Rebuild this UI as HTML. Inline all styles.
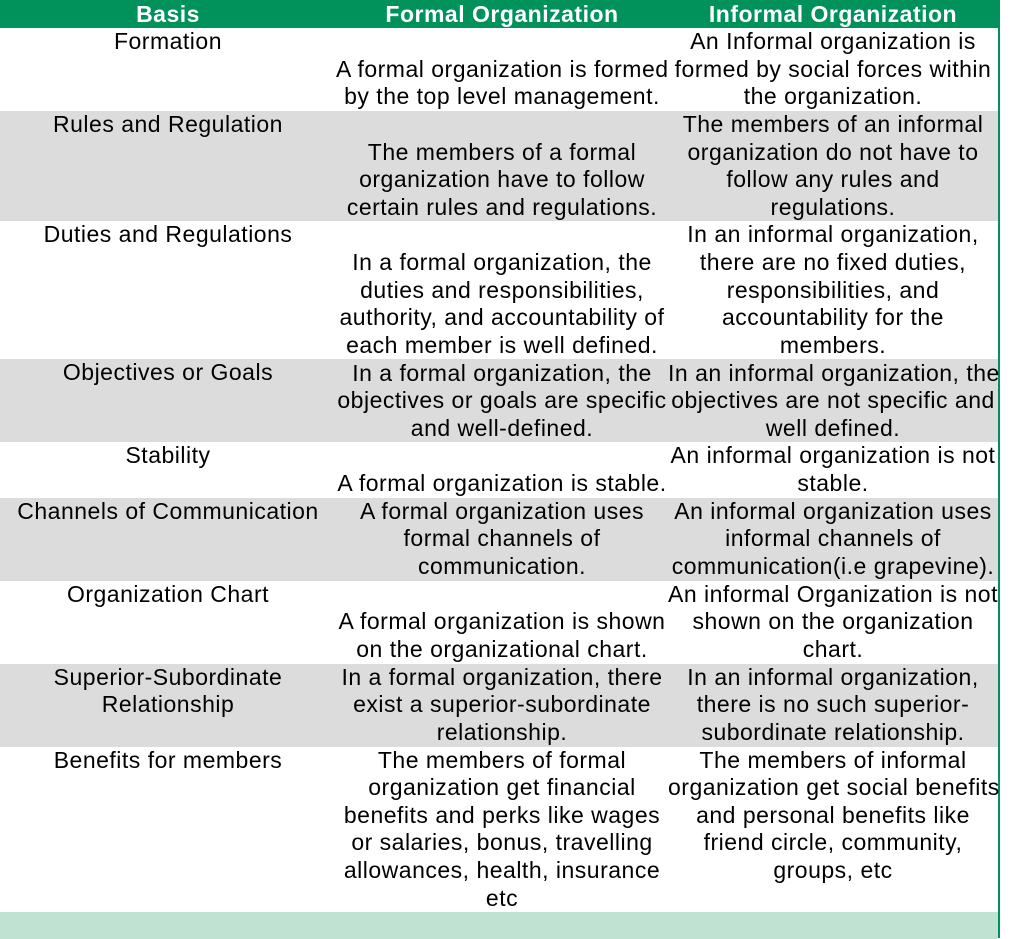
<!DOCTYPE html>
<html><head><style>
body{margin:0;width:1026px;height:938px;background:#fff;overflow:hidden;font-family:"Liberation Sans",Arial,Helvetica,sans-serif;}
.wrap{position:absolute;left:0;top:0;width:998px;border-right:2px solid #00925a;height:938px;}
table{border-collapse:collapse;table-layout:fixed;width:998px;}
td{padding:0;font-size:23px;letter-spacing:0.5px;line-height:27.6px;text-align:center;color:#000;overflow:visible;white-space:nowrap;}
td.b{vertical-align:top;}
td.v{vertical-align:bottom;}
tr.h td{background:#00925a;color:#fff;font-weight:bold;height:28px;line-height:28px;font-size:23px;letter-spacing:0.5px;}
tr.g td{background:#dcdcdc;}
tr.f td{background:#bfe2d2;height:27px;}
</style></head><body><div class="wrap">
<table>
<col style="width:336px"><col style="width:332px"><col style="width:330px">
<tr class="h"><td>Basis</td><td>Formal Organization</td><td>Informal Organization</td></tr>
<tr style="height:83px"><td class="b">Formation</td><td class="v">A formal organization is formed<br>by the top level management.</td><td class="v">An Informal organization is<br>formed by social forces within<br>the organization.</td></tr>
<tr class="g" style="height:110px"><td class="b">Rules and Regulation</td><td class="v">The members of a formal<br>organization have to follow<br>certain rules and regulations.</td><td class="v">The members of an informal<br>organization do not have to<br>follow any rules and<br>regulations.</td></tr>
<tr style="height:138px"><td class="b">Duties and Regulations</td><td class="v">In a formal organization, the<br>duties and responsibilities,<br>authority, and accountability of<br>each member is well defined.</td><td class="v">In an informal organization,<br>there are no fixed duties,<br>responsibilities, and<br>accountability for the<br>members.</td></tr>
<tr class="g" style="height:83px"><td class="b">Objectives or Goals</td><td class="v">In a formal organization, the<br>objectives or goals are specific<br>and well-defined.</td><td class="v">In an informal organization, the<br>objectives are not specific and<br>well defined.</td></tr>
<tr style="height:55px"><td class="b">Stability</td><td class="v">A formal organization is stable.</td><td class="v">An informal organization is not<br>stable.</td></tr>
<tr class="g" style="height:83px"><td class="b">Channels of Communication</td><td class="v">A formal organization uses<br>formal channels of<br>communication.</td><td class="v">An informal organization uses<br>informal channels of<br>communication(i.e grapevine).</td></tr>
<tr style="height:83px"><td class="b">Organization Chart</td><td class="v">A formal organization is shown<br>on the organizational chart.</td><td class="v">An informal Organization is not<br>shown on the organization<br>chart.</td></tr>
<tr class="g" style="height:83px"><td class="b">Superior-Subordinate<br>Relationship</td><td class="v">In a formal organization, there<br>exist a superior-subordinate<br>relationship.</td><td class="v">In an informal organization,<br>there is no such superior-<br>subordinate relationship.</td></tr>
<tr style="height:165px"><td class="b">Benefits for members</td><td class="b">The members of formal<br>organization get financial<br>benefits and perks like wages<br>or salaries, bonus, travelling<br>allowances, health, insurance<br>etc</td><td class="b">The members of informal<br>organization get social benefits<br>and personal benefits like<br>friend circle, community,<br>groups, etc</td></tr>
<tr class="f"><td></td><td></td><td></td></tr>
</table></div>
</body></html>
